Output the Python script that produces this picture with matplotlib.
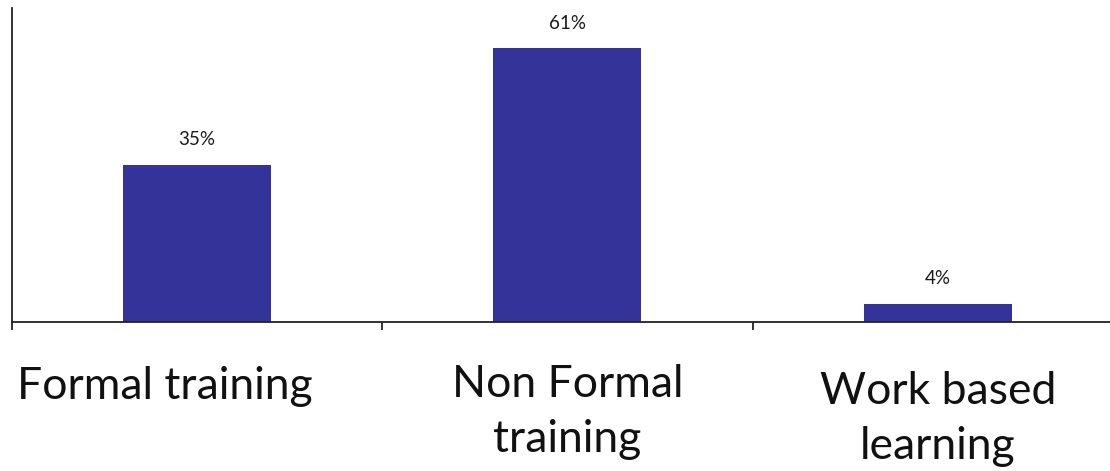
import matplotlib.pyplot as plt

plt.rcParams['font.family'] = ['Lato', 'DejaVu Sans']

categories = ['Formal training', 'Non Formal\ntraining', 'Work based\nlearning']
shares = [35, 61, 4]
value_labels = ['35%', '61%', '4%']

bar_color = '#333399'

fig = plt.figure(figsize=(11.10, 4.71), dpi=100)
# axes runs slightly past the right edge, like the original
ax = fig.add_axes([11.5 / 1110, 149 / 471, 1111.5 / 1110, 314 / 471])

x = list(range(len(categories)))
ax.bar(x, shares, width=0.4, color=bar_color, edgecolor='none')

ax.set_xlim(-0.5, 2.5)
ax.set_ylim(0, 70)

for xi, v, lab in zip(x, shares, value_labels):
    ax.annotate(lab, (xi, v), xytext=(0, 12), textcoords='offset points',
                ha='center', va='bottom', fontsize=13.5, color='#1a1a1a')

# category labels (first one is nudged left as in the source)
label_x = [-0.085, 1, 2]
label_y = [-0.14, -0.135, -0.155]
for lx, ly, cat in zip(label_x, label_y, categories):
    ax.text(lx, ly, cat, transform=ax.get_xaxis_transform(),
            ha='center', va='top', fontsize=32, color='#111111',
            linespacing=1.42)

for side in ['top', 'right']:
    ax.spines[side].set_visible(False)
for side in ['left', 'bottom']:
    ax.spines[side].set_linewidth(1.3)
    ax.spines[side].set_color('#222222')

ax.set_xticks([-0.5, 0.5, 1.5, 2.5])
ax.set_xticklabels([])
ax.set_yticks([])
ax.tick_params(axis='x', direction='out', length=6, width=1.3, color='#222222')

fig.savefig('out.png', dpi=100)
